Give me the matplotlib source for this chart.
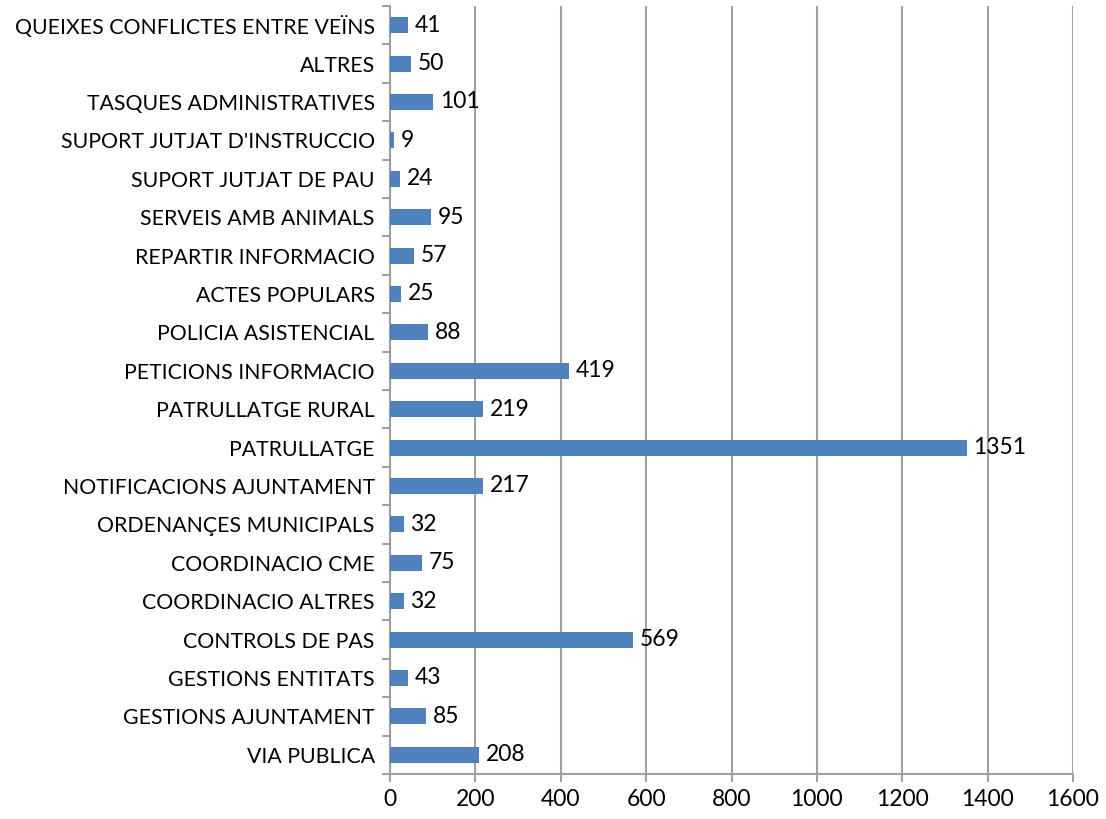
import matplotlib
matplotlib.use("Agg")
import matplotlib.pyplot as plt
import numpy as np

categories = ["VIA PUBLICA", "GESTIONS AJUNTAMENT", "GESTIONS ENTITATS", "CONTROLS DE PAS",
              "COORDINACIO ALTRES", "COORDINACIO CME", "ORDENANÇES MUNICIPALS",
              "NOTIFICACIONS AJUNTAMENT", "PATRULLATGE", "PATRULLATGE RURAL",
              "PETICIONS INFORMACIO", "POLICIA ASISTENCIAL", "ACTES POPULARS",
              "REPARTIR INFORMACIO", "SERVEIS AMB ANIMALS", "SUPORT JUTJAT DE PAU",
              "SUPORT JUTJAT D'INSTRUCCIO", "TASQUES ADMINISTRATIVES", "ALTRES",
              "QUEIXES CONFLICTES ENTRE VEÏNS"]
values = [208, 85, 43, 569, 32, 75, 32, 217, 1351, 219, 419, 88, 25, 57, 95, 24, 9, 101, 50, 41]
xticks = [0, 200, 400, 600, 800, 1000, 1200, 1400, 1600]

plt.rcParams['font.family'] = ['Lato', 'DejaVu Sans']
fig = plt.figure(figsize=(11.06, 8.19), dpi=100)
ax = fig.add_axes([390/1106, 45/819, (1073-390)/1106, (774-6)/819])

y = np.arange(len(categories))
ax.barh(y, values, height=0.42, color="#4F81BD", zorder=3)
for yi, v in zip(y, values):
    ax.text(v + 16, yi, str(v), va='center', ha='left', fontsize=16.5, color='black', zorder=4)

ax.set_xlim(0, 1600)
ax.set_ylim(-0.5, len(categories) - 0.5)
ax.set_xticks(xticks)
ax.set_xticklabels([str(t) for t in xticks], fontsize=16.5)
ax.set_yticks(y)
ax.set_yticklabels(categories, fontsize=15.3)
ax.set_yticks(np.arange(-0.5, len(categories), 1.0), minor=True)
ax.tick_params(axis='y', which='major', length=0, pad=11)
ax.tick_params(axis='y', which='minor', length=6, color='#A0A0A0', width=1.5)
ax.tick_params(axis='x', which='major', length=6, color='#A0A0A0', width=1.5, pad=5)

ax.grid(axis='x', color='#A0A0A0', linewidth=1.5, zorder=0)
for s in ['top', 'right']:
    ax.spines[s].set_visible(False)
for s in ['left', 'bottom']:
    ax.spines[s].set_color('#A0A0A0')
    ax.spines[s].set_linewidth(1.5)

fig.savefig("out.png", dpi=100)
